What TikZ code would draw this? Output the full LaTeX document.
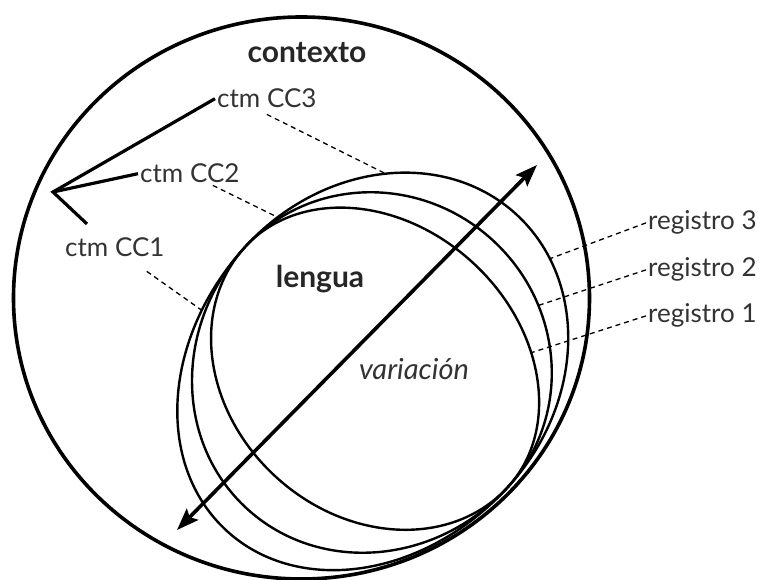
\documentclass[tikz,border=0pt]{standalone}
\usepackage{fontspec}
\setmainfont{Lato}
\usepackage{tikz}
\usetikzlibrary{positioning, calc, arrows.meta}

\begin{document}
\begin{tikzpicture}[
    x=1pt, y=1pt,
    outer/.style={line width=3.6pt},
    register/.style={line width=2.4pt},
    branch/.style={line width=3.2pt},
    leader/.style={line width=1.3pt, dash pattern=on 5pt off 4pt},
    title/.style={font=\fontsize{30}{30}\selectfont\bfseries, text=black!85, anchor=base},
    small/.style={font=\fontsize{26}{26}\selectfont, text=black!80, inner sep=2pt, anchor=base west},
    varrow/.style={{Stealth[length=22pt, width=16pt, inset=4pt]}-{Stealth[length=22pt, width=16pt, inset=4pt]}, line width=3.6pt},
  ]
  \useasboundingbox (0,0) rectangle (766,580);

  \draw[outer] (301.5,282) ellipse [x radius=288, y radius=281];

  \coordinate (core) at (376.5,213);
  \begin{scope}[shift={(core)}, rotate=-42.4]
    \draw[register] (178,0) arc[start angle=0, end angle=180, x radius=178, y radius=207]
      arc[start angle=180, end angle=360, x radius=178, y radius=222] -- cycle;
    \draw[register] (178,0) arc[start angle=0, end angle=180, x radius=178, y radius=172]
      arc[start angle=180, end angle=360, x radius=178, y radius=192] -- cycle;
    \draw[register] (178,0) arc[start angle=0, end angle=180, x radius=178, y radius=142]
      arc[start angle=180, end angle=360, x radius=178, y radius=149] -- cycle;
    \coordinate (topA) at (134:178 and 207);
    \coordinate (nwB) at (165:178 and 172);
    \coordinate (leftA) at (200:178 and 222);
    \coordinate (endA) at (72:178 and 207);
    \coordinate (endB) at (64:178 and 172);
    \coordinate (endC) at (54:178 and 142);
  \end{scope}

  \node[title] (ctx) at (307,517) {contexto};
  \node[title] (lang) at (320,292) {lengua};
  \node[font=\fontsize{29}{29}\selectfont\itshape, text=black!80, anchor=base] (var) at (414,200) {variación};

  \node[small] (cc3) at (215,472) {ctm CC3};
  \node[small] (cc2) at (138,397) {ctm CC2};
  \node[small] (cc1) at (63,323) {ctm CC1};

  \node[small] (reg3) at (646,350) {registro 3};
  \node[small] (reg2) at (646,303) {registro 2};
  \node[small] (reg1) at (646,257) {registro 1};

  \coordinate (fork) at (53,388);
  \draw[branch] (cc3.west) -- (fork) -- ([shift={(24,12)}]cc1.north west);
  \draw[branch] (fork) -- (cc2.west);

  \draw[leader] ([yshift=-4pt]cc3.south) -- (topA);
  \draw[leader] ([xshift=23pt]cc2.south) -- (nwB);
  \draw[leader] ([shift={(32,-12)}]cc1.south) -- (leftA);

  \draw[leader] (reg3.west) -- (endA);
  \draw[leader] (reg2.west) -- (endB);
  \draw[leader] (reg1.west) -- (endC);

  \coordinate (vlow) at (177,50);
  \coordinate (vhigh) at (537,415);
  \draw[varrow] (vlow) -- (vhigh);
\end{tikzpicture}
\end{document}
